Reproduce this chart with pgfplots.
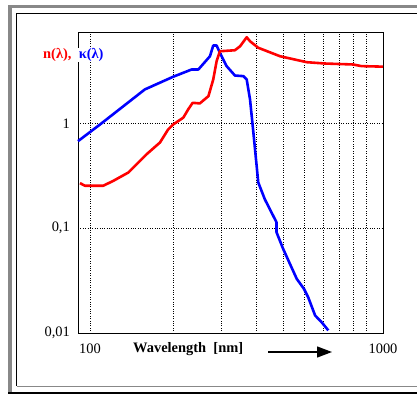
\documentclass[border=0pt]{standalone}
\usepackage{pgfplots}
\pgfplotsset{compat=1.18}
\usepackage{fontspec}
\setmainfont{Liberation Serif}
\usetikzlibrary{arrows.meta}
\definecolor{framegray}{RGB}{136,136,136}
\begin{document}
\begin{tikzpicture}[x=1bp,y=1bp]
\useasboundingbox (0,0) rectangle (417,394);
% frame
\fill[framegray] (8.3,386) rectangle (417,389);
\fill[framegray] (8.3,2) rectangle (12,389);
\fill[black] (8.3,0) rectangle (417,2.4);
\draw[black, line width=1bp] (417,380.7) -- (16.7,380.7) -- (16.7,7.7);
\draw[framegray, line width=1bp] (16.7,7.7) -- (417,7.7);
\begin{axis}[
  at={(78bp,61bp)}, anchor=south west,
  scale only axis, width=305bp, height=301bp,
  xmode=log, ymode=log,
  xmin=90.5, xmax=1152, ymin=0.01, ymax=7.5,
  xtick={100,200,300,400,500,600,700,800,900,1000},
  xticklabels={},
  ytick={0.01,0.1,1},
  yticklabels={{0,01},{0,1},{1}},
  minor tick num=0,
  major tick length=0pt,
  log basis x=10, log basis y=10,
  xmajorgrids, ymajorgrids,
  grid style={black, dotted, line width=0.7pt},
  axis line style={black, line width=0.8pt},
  yticklabel style={font=\fontsize{14.5}{16}\selectfont, inner sep=0pt, xshift=-8bp},
  /pgf/number format/assume math mode=true,
  clip=false,
]
\addplot[blue, line width=2.6pt, line join=round] coordinates {
(90.5,0.68) (108.7,0.98) (158,2.12) (200,2.8) (233.6,3.29) (247,3.29) (272,4.4) (279.6,5.57) (287.6,5.57) (295.6,4.74) (312.6,3.54) (335,2.88) (359.4,2.84) (369.6,2.64) (380,1.70) (390.8,0.82) (407,0.274) (430,0.189) (474,0.114) (474,0.0916) (501,0.0635) (561,0.0329) (596,0.0264) (617,0.022) (654,0.0147) (690,0.0127) (730,0.0106)
};
\addplot[red, line width=2.6pt, line join=round] coordinates {
(92,0.27) (95.9,0.255) (111.7,0.255) (121.5,0.284) (137.7,0.341) (160.4,0.51) (179.3,0.66) (192,0.88) (200,0.98) (217.8,1.14) (227,1.37) (235.5,1.58) (250,1.56) (268.6,1.83) (279.6,2.64) (287.6,3.95) (295.6,4.91) (335,5.02) (349.8,5.48) (369.6,6.68) (380,6.12) (407,5.3) (488,4.4) (610,3.86) (710,3.75) (899,3.67) (963,3.54) (1152,3.5)
};
\node[font=\fontsize{14.5}{16}\selectfont] at (axis cs:100,0.01) [yshift=-16bp] {100};
\node[font=\fontsize{14.5}{16}\selectfont] at (rel axis cs:1,0) [yshift=-16bp] {1000};
\end{axis}
\node[anchor=west, inner sep=0pt, fill=white, font=\bfseries\fontsize{14.5}{16}\selectfont] at (43,339) {\textcolor{red}{n(λ),}\ \ \textcolor{blue}{κ(λ)}};
\node[anchor=west, inner sep=0pt, font=\bfseries\fontsize{14.5}{16}\selectfont] at (133,45) {Wavelength\ \ [nm]};
\draw[line width=1.3pt, -{Triangle[length=15bp,width=11bp]}] (268,42) -- (332,42);
\end{tikzpicture}
\end{document}
